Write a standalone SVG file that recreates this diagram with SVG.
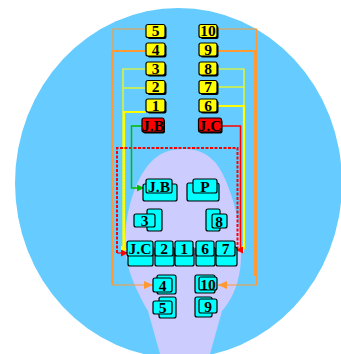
<svg xmlns="http://www.w3.org/2000/svg" width="341" height="354" viewBox="0 0 341 354">
<style>
text{font-family:"Liberation Serif","Times New Roman",serif;font-weight:bold;font-size:15.5px;text-anchor:middle;fill:#000}
.y{fill:#FFFF00;stroke:#000;stroke-width:1.2}
.r{fill:#FF0000;stroke:#000;stroke-width:1.2}
.c{fill:#00FFFF;stroke:#000;stroke-width:1.2}
.sh{fill:#000}
.ln{fill:none}
</style>
<defs>
<marker id="ao" markerUnits="userSpaceOnUse" markerWidth="10" markerHeight="8" refX="9" refY="4" orient="auto"><path d="M0,0 L9,4 L0,8 Z" fill="#FF9933"/></marker>
<marker id="ay" markerUnits="userSpaceOnUse" markerWidth="8" markerHeight="7" refX="7" refY="3.5" orient="auto"><path d="M0,0 L7,3.5 L0,7 Z" fill="#FFFF00"/></marker>
<marker id="ar" markerUnits="userSpaceOnUse" markerWidth="8" markerHeight="7" refX="7" refY="3.5" orient="auto"><path d="M0,0 L7,3.5 L0,7 Z" fill="#FF0000"/></marker>
<marker id="ag" markerUnits="userSpaceOnUse" markerWidth="8" markerHeight="7" refX="7" refY="3.5" orient="auto"><path d="M0,0 L7,3.5 L0,7 Z" fill="#00BB00"/></marker>
</defs>
<ellipse cx="178.5" cy="183" rx="163.5" ry="175" fill="#66CCFF"/>
<path d="M160,354 L148,311 C136,290 124,265 125,240 C126,210 135,180 150,163 C160,152 170,149 185,149 C198,149 207,154 215,162 C228,178 240,215 241,250 C242,280 232,300 222,311 L210,354 Z" fill="#CCCCFF"/>
<g id="connectors" class="ln">
<path d="M146,29 H113 V285 H153" stroke="#FF9933" stroke-width="1.2" marker-end="url(#ao)"/>
<path d="M146,51 H112 V285" stroke="#FF9933" stroke-width="2"/>
<path d="M217,29 H256.5 V285 H218" stroke="#FF9933" stroke-width="1.2" marker-end="url(#ao)"/>
<path d="M217,51 H255 V276" stroke="#FF9933" stroke-width="2"/>
<path d="M146,69 H123 V249 H128" stroke="#FFFF00" stroke-width="1.2" marker-end="url(#ay)"/>
<path d="M146,88 H124" stroke="#FFFF00" stroke-width="1.2"/>
<path d="M146,112 H124 V249" stroke="#FFFF00" stroke-width="2.2"/>
<path d="M217,69 H244 V249 H237" stroke="#FFFF00" stroke-width="1.2" marker-end="url(#ay)"/>
<path d="M217,87 H244" stroke="#FFFF00" stroke-width="1.2"/>
<path d="M217,106 H244 V249" stroke="#FFFF00" stroke-width="2.2"/>
<path d="M117,253 V148 H237.5 V250" stroke="#FF0000" stroke-width="2" stroke-dasharray="3,1.5"/>
<path d="M117,253 H128" stroke="#FF0000" stroke-width="1.2" marker-end="url(#ar)"/>
<path d="M221,126 H240.5 V250 H236" stroke="#FF0000" stroke-width="1.5" marker-end="url(#ar)"/>
<path d="M142,126 H131.5 V188 H144" stroke="#00BB00" stroke-width="1.5" marker-end="url(#ag)"/>
</g>
<g id="t5"><rect class="sh" x="147.5" y="26" width="19" height="13" rx="2"/><rect class="y" x="146" y="24.5" width="19" height="13" rx="2"/><text x="155.5" y="36">5</text></g>
<g id="t4"><rect class="sh" x="147.5" y="44.5" width="19" height="13" rx="2"/><rect class="y" x="146" y="43" width="19" height="13" rx="2"/><text x="155.5" y="54.5">4</text></g>
<g id="t3"><rect class="sh" x="147.5" y="63.5" width="19" height="13" rx="2"/><rect class="y" x="146" y="62" width="19" height="13" rx="2"/><text x="155.5" y="73.5">3</text></g>
<g id="t2"><rect class="sh" x="147.5" y="82" width="19" height="13" rx="2"/><rect class="y" x="146" y="80.5" width="19" height="13" rx="2"/><text x="155.5" y="92">2</text></g>
<g id="t1"><rect class="sh" x="147.5" y="100.5" width="19" height="13" rx="2"/><rect class="y" x="146" y="99" width="19" height="13" rx="2"/><text x="155.5" y="110.5">1</text></g>
<g id="t10"><rect class="sh" x="200.5" y="26" width="18" height="13" rx="2"/><rect class="y" x="199" y="24.5" width="18" height="13" rx="2"/><text x="208" y="36">10</text></g>
<g id="t9"><rect class="sh" x="200.5" y="44.5" width="18" height="13" rx="2"/><rect class="y" x="199" y="43" width="18" height="13" rx="2"/><text x="208" y="54.5">9</text></g>
<g id="t8"><rect class="sh" x="200.5" y="63.5" width="18" height="13" rx="2"/><rect class="y" x="199" y="62" width="18" height="13" rx="2"/><text x="208" y="73.5">8</text></g>
<g id="t7"><rect class="sh" x="200.5" y="82" width="18" height="13" rx="2"/><rect class="y" x="199" y="80.5" width="18" height="13" rx="2"/><text x="208" y="92">7</text></g>
<g id="t6"><rect class="sh" x="200.5" y="100.5" width="18" height="13" rx="2"/><rect class="y" x="199" y="99" width="18" height="13" rx="2"/><text x="208" y="110.5">6</text></g>
<g id="tJB"><rect class="sh" x="143" y="119.5" width="22" height="14" rx="2"/><rect class="r" x="142" y="118" width="22" height="14" rx="2"/><text x="153" y="130.5">J.B</text></g>
<g id="tJC"><rect class="sh" x="199.5" y="119.5" width="23" height="14" rx="2"/><rect class="r" x="198.5" y="118" width="23" height="14" rx="2"/><text x="210" y="130.5">J.C</text></g>
<g id="bJB"><rect class="c" x="143" y="184" width="34" height="17" rx="2"/><rect class="c" x="146" y="179" width="26" height="14" rx="2"/><text x="159" y="191.5">J.B</text></g>
<g id="bP"><rect class="c" x="187" y="183" width="32" height="18" rx="2"/><rect class="c" x="193" y="179" width="24" height="14" rx="2"/><text x="205" y="191.5">P</text></g>
<g id="b3"><rect class="c" x="147" y="209" width="15" height="22" rx="2"/><rect class="c" x="134" y="214" width="21" height="13" rx="2"/><text x="144.5" y="226">3</text></g>
<g id="b8"><rect class="c" x="206" y="209" width="14" height="22" rx="2"/><rect class="c" x="212" y="214" width="15" height="14" rx="2"/><text x="219" y="226.5">8</text></g>
<g id="bJC"><rect class="c" x="128" y="246" width="25" height="20" rx="2"/><rect class="c" x="127" y="241" width="26" height="15" rx="2"/><text x="140" y="253.5">J.C</text></g>
<g id="b2"><rect class="c" x="155" y="247" width="19" height="19" rx="2"/><rect class="c" x="155" y="241" width="18" height="15" rx="2"/><text x="164" y="253.5">2</text></g>
<g id="b1"><rect class="c" x="175" y="247" width="19" height="19" rx="2"/><rect class="c" x="175" y="241" width="18" height="15" rx="2"/><text x="184" y="253.5">1</text></g>
<g id="b6"><rect class="c" x="196" y="247" width="19" height="19" rx="2"/><rect class="c" x="196" y="241" width="18" height="15" rx="2"/><text x="205" y="253.5">6</text></g>
<g id="b7"><rect class="c" x="216" y="247" width="21" height="19" rx="2"/><rect class="c" x="216" y="241" width="19" height="15" rx="2"/><text x="225.5" y="253.5">7</text></g>
<g id="b4"><rect class="c" x="157" y="275" width="19" height="19" rx="2"/><rect class="c" x="153" y="278" width="19" height="14" rx="2"/><text x="162.5" y="290.5">4</text></g>
<g id="b5"><rect class="c" x="159" y="297" width="17" height="21" rx="2"/><rect class="c" x="153" y="301" width="19" height="13" rx="2"/><text x="162.5" y="312.5">5</text></g>
<g id="b10"><rect class="c" x="195" y="275" width="20" height="18" rx="2"/><rect class="c" x="199" y="277" width="18" height="13" rx="2"/><text x="208" y="289.5">10</text></g>
<g id="b9"><rect class="c" x="195" y="297" width="17" height="20" rx="2"/><rect class="c" x="199" y="299" width="18" height="14" rx="2"/><text x="208" y="311.5">9</text></g>
</svg>
